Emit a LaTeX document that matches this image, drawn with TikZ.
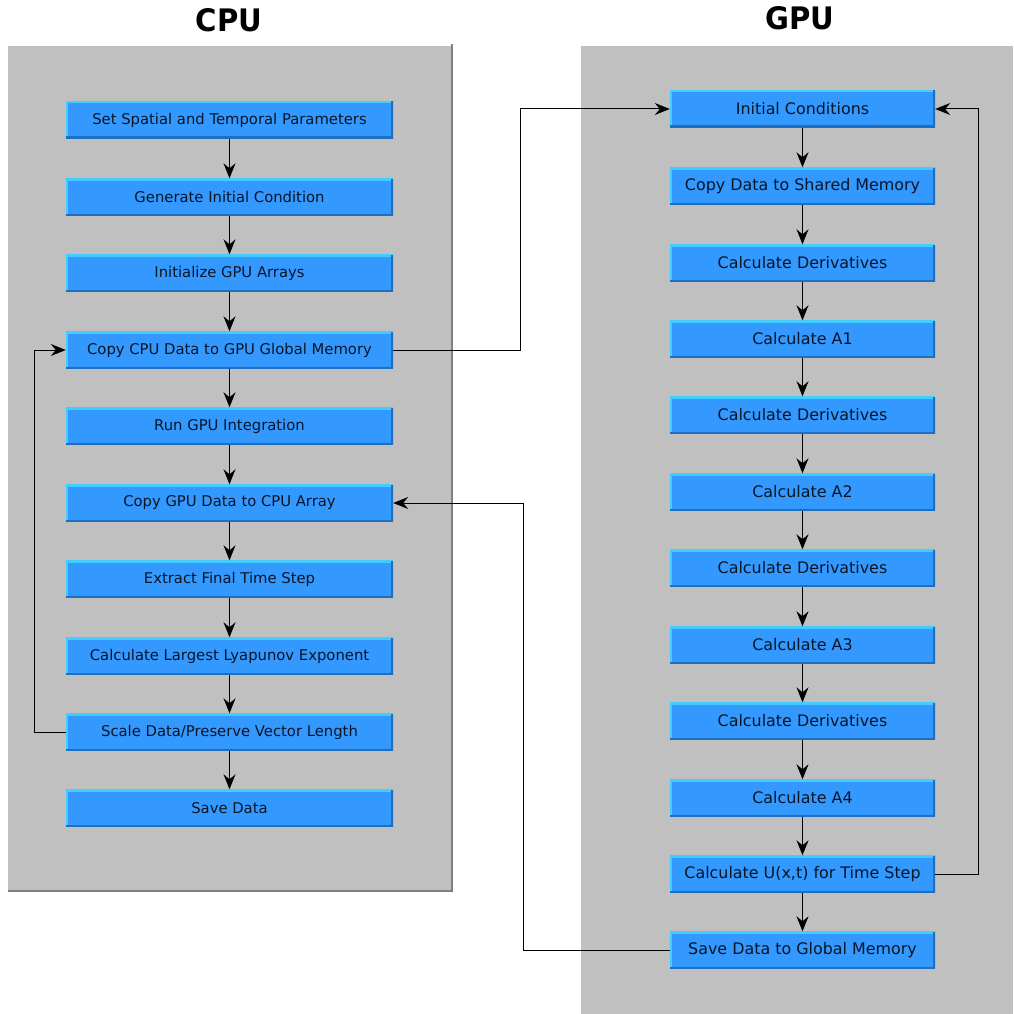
\documentclass[tikz,border=0pt]{standalone}
\usepackage{fontspec}
\setmainfont{DejaVu Sans}
\usetikzlibrary{arrows.meta,positioning}

\definecolor{panelgray}{HTML}{C0C0C0}
\definecolor{paneledge}{HTML}{808080}
\definecolor{boxblue}{HTML}{3399FF}
\definecolor{boxlight}{HTML}{44CCFF}
\definecolor{boxdark}{HTML}{1F6FC0}
\definecolor{boxtext}{HTML}{0A1526}

\tikzset{
  stepbox/.style={fill=boxblue, minimum height=37pt, inner sep=0pt, text=boxtext,
    path picture={
      \draw[boxlight, line width=4pt] (path picture bounding box.south west) -- (path picture bounding box.north west) -- (path picture bounding box.north east);
      \draw[boxdark, line width=4pt] (path picture bounding box.north east) -- (path picture bounding box.south east) -- (path picture bounding box.south west);
    }},
  cpubox/.style={stepbox, minimum width=327pt, font=\fontsize{14.8}{17}\selectfont},
  gpubox/.style={stepbox, minimum width=265pt, font=\fontsize{15.9}{18}\selectfont},
  flow/.style={-{Stealth[length=15pt, width=12pt, inset=5pt]}, line width=1pt},
  paneltitle/.style={font=\bfseries\fontsize{31}{34}\selectfont, xscale=0.94, transform shape},
}

\begin{document}
\begin{tikzpicture}[x=1pt, y=-1pt]
    \useasboundingbox (0,0) rectangle (1013,1014);

    % Background panels
    \fill[panelgray] (8,46) rectangle (452,891);
    \draw[paneledge, line width=2pt] (452,44) -- (452,891) -- (8,891);
    \fill[panelgray] (581,46) rectangle (1013,1014);

    % Titles
    \node[paneltitle] (cputitle) at (229,20) {CPU};
    \node[paneltitle] (gputitle) at (800,18) {GPU};

    % CPU steps
    \node[cpubox] (setparams)  at (229.5,120) {Set Spatial and Temporal Parameters};
    \node[cpubox] (geninit)    at (229.5,197) {Generate Initial Condition};
    \node[cpubox] (initarrays) at (229.5,273) {Initialize GPU Arrays};
    \node[cpubox] (copytogpu)  at (229.5,350) {Copy CPU Data to GPU Global Memory};
    \node[cpubox] (rungpu)     at (229.5,426) {Run GPU Integration};
    \node[cpubox] (copytocpu)  at (229.5,503) {Copy GPU Data to CPU Array};
    \node[cpubox] (extract)    at (229.5,579) {Extract Final Time Step};
    \node[cpubox] (lyapunov)   at (229.5,656) {Calculate Largest Lyapunov Exponent};
    \node[cpubox] (scaledata)  at (229.5,732) {Scale Data/Preserve Vector Length};
    \node[cpubox] (savedata)   at (229.5,808) {Save Data};

    % GPU steps
    \node[gpubox] (initcond)   at (802.5,109) {Initial Conditions};
    \node[gpubox] (sharedmem)  at (802.5,186) {Copy Data to Shared Memory};
    \node[gpubox] (derivone)   at (802.5,263) {Calculate Derivatives};
    \node[gpubox] (calcaone)   at (802.5,339) {Calculate A1};
    \node[gpubox] (derivtwo)   at (802.5,415) {Calculate Derivatives};
    \node[gpubox] (calcatwo)   at (802.5,492) {Calculate A2};
    \node[gpubox] (derivthree) at (802.5,568) {Calculate Derivatives};
    \node[gpubox] (calcathree) at (802.5,645) {Calculate A3};
    \node[gpubox] (derivfour)  at (802.5,721) {Calculate Derivatives};
    \node[gpubox] (calcafour)  at (802.5,798) {Calculate A4};
    \node[gpubox] (calcu)      at (802.5,874) {Calculate U(x,t) for Time Step};
    \node[gpubox] (saveglobal) at (802.5,950) {Save Data to Global Memory};

    % Straight flow
    \foreach \a/\b in {setparams/geninit, geninit/initarrays, initarrays/copytogpu,
        copytogpu/rungpu, rungpu/copytocpu, copytocpu/extract, extract/lyapunov,
        lyapunov/scaledata, scaledata/savedata,
        initcond/sharedmem, sharedmem/derivone, derivone/calcaone, calcaone/derivtwo,
        derivtwo/calcatwo, calcatwo/derivthree, derivthree/calcathree,
        calcathree/derivfour, derivfour/calcafour, calcafour/calcu, calcu/saveglobal}
        \draw[flow] (\a.south) -- (\b.north);

    % Loops and transfers
    \draw[flow] (copytogpu.east) -- ++(127,0) |- (initcond.west);
    \draw[flow] (saveglobal.west) -- ++(-146,0) |- (copytocpu.east);
    \draw[flow] (calcu.east) -- ++(43,0) |- (initcond.east);
    \draw[flow] (scaledata.west) -- ++(-31,0) |- (copytogpu.west);
\end{tikzpicture}
\end{document}
